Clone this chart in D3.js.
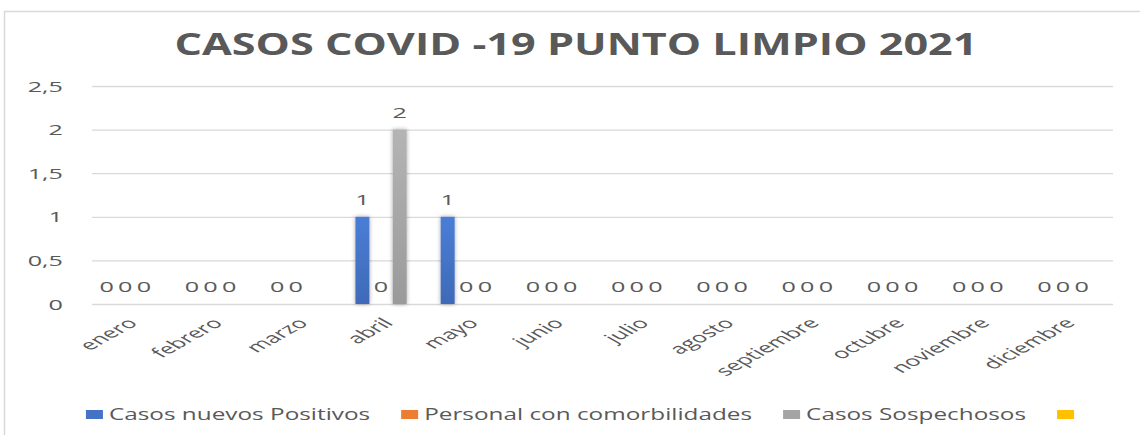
<!DOCTYPE html>
<html>
<head>
<meta charset="utf-8">
<script src="https://cdn.jsdelivr.net/npm/d3@7"></script>
<style>
  body { margin: 0; background: #fff; }
  text { font-family: "Open Sans", sans-serif; fill: #595959; }
</style>
</head>
<body>
<div id="chart"></div>
<script>
// data
var months = ["enero", "febrero", "marzo", "abril", "mayo", "junio", "julio",
              "agosto", "septiembre", "octubre", "noviembre", "diciembre"];
var seriesNames = ["Casos nuevos Positivos", "Personal con comorbilidades", "Casos Sospechosos", ""];
var positivos      = [0, 0, 0, 1, 1, 0, 0, 0, 0, 0, 0, 0];
var comorbilidades = [0, 0, 0, 0, 0, 0, 0, 0, 0, 0, 0, 0];
var sospechosos    = [0, 0, null, 2, 0, 0, 0, 0, 0, 0, 0, 0];
var serie4         = [null, null, null, null, null, null, null, null, null, null, null, null];
var yTicks = [0, 0.5, 1, 1.5, 2, 2.5];
var colors = ["#4472C4", "#ED7D31", "#A5A5A5", "#FFC000"];
var titleText = "CASOS COVID -19 PUNTO LIMPIO 2021";

var seriesValues = [positivos, comorbilidades, sospechosos, serie4];
var labelled = [true, true, true, false];

var W = 1140, H = 435;
var sx = 1.8;      // the picture is stretched sideways
var sxLegend = 1.52;
var plot = {left: 92, right: 1115, top: 86, bottom: 304};

var svg = d3.select("#chart").append("svg")
    .attr("width", W)
    .attr("height", H);

var defs = svg.append("defs");
defs.append("filter").attr("id", "shadow")
    .attr("x", "-50%").attr("y", "-10%").attr("width", "200%").attr("height", "120%")
  .append("feDropShadow")
    .attr("dx", 0).attr("dy", 0).attr("stdDeviation", 2)
    .attr("flood-color", "#000").attr("flood-opacity", 0.35);

colors.forEach(function(c, i) {
    var g = defs.append("linearGradient").attr("id", "grad" + i)
        .attr("x1", 0).attr("y1", 0).attr("x2", 0).attr("y2", 1);
    g.append("stop").attr("offset", "0%").attr("stop-color", d3.color(c).brighter(0.25));
    g.append("stop").attr("offset", "100%").attr("stop-color", d3.color(c).darker(0.2));
});

// chart frame
svg.append("rect")
    .attr("x", 4.5).attr("y", 11.5)
    .attr("width", 1160).attr("height", 440)
    .attr("fill", "none")
    .attr("stroke", "#d9d9d9")
    .attr("stroke-width", 1.5);

// title
svg.append("text")
    .attr("x", 576)
    .attr("y", 55)
    .attr("text-anchor", "middle")
    .attr("font-size", 31)
    .attr("font-weight", "bold")
    .attr("textLength", 803)
    .attr("lengthAdjust", "spacingAndGlyphs")
    .text(titleText);

var x0 = d3.scaleBand()
    .domain(months)
    .range([plot.left, plot.right])
    .paddingInner(0.18)
    .paddingOuter(0.09);

var x1 = d3.scaleBand()
    .domain(d3.range(seriesNames.length))
    .range([0, x0.bandwidth()])
    .paddingInner(0.25);

var y = d3.scaleLinear()
    .domain([0, 2.5])
    .range([plot.bottom, plot.top]);

var fmt = d3.formatLocale({decimal: ",", thousands: ".", grouping: [3], currency: ["", ""]}).format("~g");

// y axis + gridlines
var yAxis = svg.append("g")
    .attr("transform", "translate(" + plot.left + ",0)")
    .call(d3.axisLeft(y).tickValues(yTicks).tickFormat(fmt)
        .tickSize(-(plot.right - plot.left - 2)));
yAxis.select(".domain").remove();
yAxis.selectAll("line").attr("stroke", "#d9d9d9").attr("stroke-width", 1.3);
yAxis.selectAll("text")
    .attr("x", null).attr("dy", "0.36em")
    .attr("font-size", 14)
    .attr("transform", "translate(-29,0) scale(" + sx + ",1)")
    .style("fill", "#595959");

// x axis labels (rotated, then stretched like the picture)
var xAxis = svg.append("g")
    .attr("transform", "translate(0," + plot.bottom + ")")
    .call(d3.axisBottom(x0).tickSize(0));
xAxis.select(".domain").remove();
xAxis.selectAll("text")
    .attr("y", null).attr("dy", null)
    .attr("font-size", 14)
    .attr("text-anchor", "end")
    .attr("transform", "translate(4,20) scale(" + sx + ",1) rotate(-45)")
    .style("fill", "#595959");

// bars
var groups = svg.append("g").selectAll("g")
    .data(months)
    .enter().append("g")
    .attr("transform", function(d) { return "translate(" + x0(d) + ",0)"; });

seriesValues.forEach(function(vals, si) {
    groups.filter(function(d, i) { return vals[i] != null && vals[i] > 0; })
      .append("rect")
        .attr("x", x1(si))
        .attr("width", x1.bandwidth())
        .attr("y", function(d) { return y(vals[months.indexOf(d)]); })
        .attr("height", function(d) { return y(0) - y(vals[months.indexOf(d)]); })
        .attr("fill", "url(#grad" + si + ")")
        .attr("filter", "url(#shadow)");
});

// data labels
seriesValues.forEach(function(vals, si) {
    if (!labelled[si]) return;
    groups.filter(function(d, i) { return vals[i] != null; })
      .append("text")
        .attr("text-anchor", "middle")
        .attr("font-size", 14)
        .attr("transform", function(d) {
            var v = vals[months.indexOf(d)];
            return "translate(" + (x1(si) + x1.bandwidth() / 2) + "," + (y(v) - 12) + ") scale(" + sx + ",1)";
        })
        .text(function(d) { return fmt(vals[months.indexOf(d)]); });
});

// legend
var legend = svg.append("g");
var lx = 0;
seriesNames.forEach(function(name, i) {
    var it = legend.append("g").attr("transform", "translate(" + lx + ",0)");
    it.append("rect")
        .attr("x", 0).attr("y", -10)
        .attr("width", 17).attr("height", 9)
        .attr("fill", colors[i]);
    var t = it.append("text")
        .attr("font-size", 16)
        .attr("transform", "translate(23,0) scale(" + sxLegend + ",1)")
        .text(name);
    var w = name ? 23 + t.node().getComputedTextLength() * sxLegend : 17;
    lx += w + 31;
});
var legendWidth = lx - 31;
legend.attr("transform", "translate(" + (580 - legendWidth / 2) + ",420)");
</script>
</body>
</html>
